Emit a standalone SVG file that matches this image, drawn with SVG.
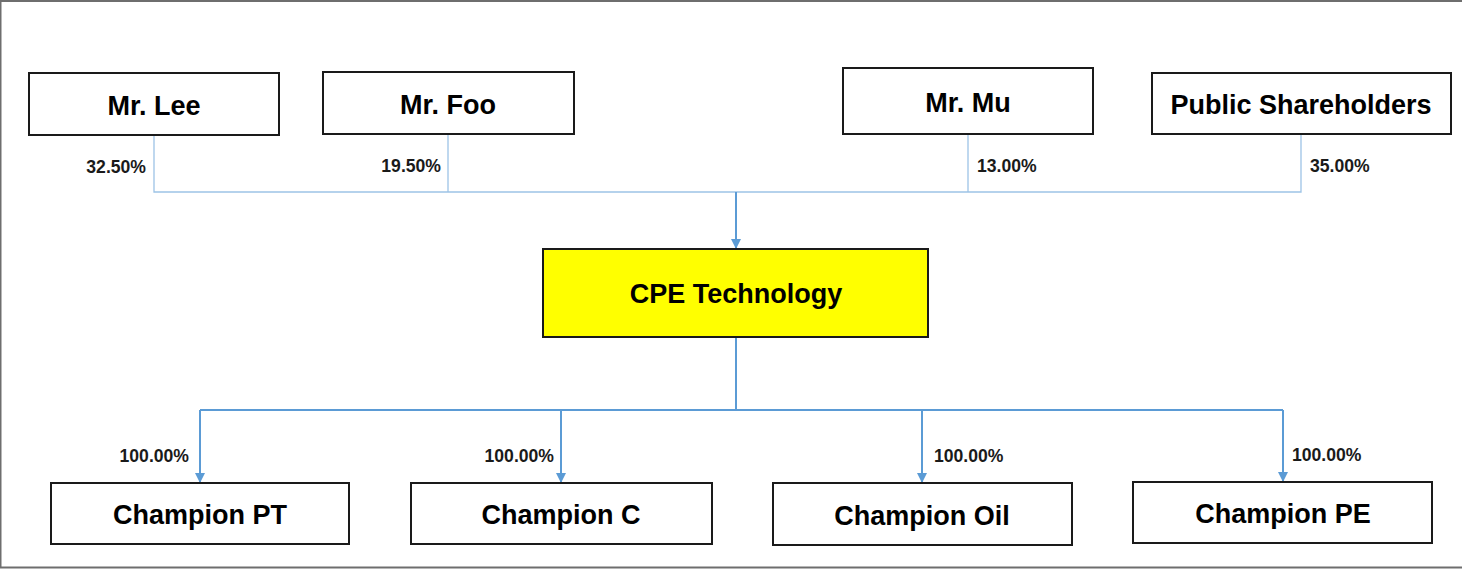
<svg xmlns="http://www.w3.org/2000/svg" width="1462" height="569" viewBox="0 0 1462 569">
<defs>
<style>
.box{fill:#fff;stroke:#1a1a1a;stroke-width:2}
.yel{fill:#ffff00;stroke:#1a1a1a;stroke-width:2}
.nt{font-family:"Liberation Sans",Arial,sans-serif;font-weight:bold;font-size:27px;fill:#000;text-anchor:middle}
.pt{font-family:"Liberation Sans",Arial,sans-serif;font-weight:bold;font-size:17.6px;fill:#1a1a1a}
.thin{fill:none;stroke:#9dc3e6;stroke-width:1.3}
.blue{fill:none;stroke:#5b9bd5;stroke-width:2}
</style>
<marker id="ah" viewBox="0 0 10 10" refX="10" refY="5" markerWidth="5" markerHeight="5" markerUnits="strokeWidth" orient="auto">
<path d="M0,0 L10,5 L0,10 z" fill="#5b9bd5"/>
</marker>
</defs>
<rect x="0" y="0" width="1462" height="569" fill="#fff"/>
<path d="M1470,1 H0.5 V567.5 H1470" fill="none" stroke="#6e6e6e" stroke-width="2"/>
<g id="connectors">
<path class="thin" d="M154,135 V192 H1301 V134"/>
<path class="thin" d="M448,134 V192"/>
<path class="thin" d="M968,134 V192"/>
<path class="blue" d="M736,192 V249" marker-end="url(#ah)"/>
<path class="blue" d="M736,338 V410"/>
<path class="blue" d="M200,410 H1283"/>
<path class="blue" d="M200,410 V483" marker-end="url(#ah)"/>
<path class="blue" d="M561,410 V483" marker-end="url(#ah)"/>
<path class="blue" d="M922,410 V483" marker-end="url(#ah)"/>
<path class="blue" d="M1283,410 V482" marker-end="url(#ah)"/>
</g>
<g id="labels">
<text class="pt" x="146" y="173" text-anchor="end">32.50%</text>
<text class="pt" x="441" y="172" text-anchor="end">19.50%</text>
<text class="pt" x="977" y="172">13.00%</text>
<text class="pt" x="1310" y="172">35.00%</text>
<text class="pt" x="189" y="462" text-anchor="end">100.00%</text>
<text class="pt" x="554" y="462" text-anchor="end">100.00%</text>
<text class="pt" x="934" y="462">100.00%</text>
<text class="pt" x="1292" y="461">100.00%</text>
</g>
<g id="n-lee"><rect class="box" x="29" y="73" width="250" height="62"/><text class="nt" x="154" y="115">Mr. Lee</text></g>
<g id="n-foo"><rect class="box" x="323" y="72" width="251" height="62"/><text class="nt" x="448" y="114">Mr. Foo</text></g>
<g id="n-mu"><rect class="box" x="843" y="68" width="250" height="66"/><text class="nt" x="968" y="112">Mr. Mu</text></g>
<g id="n-public"><rect class="box" x="1152" y="73" width="299" height="61"/><text class="nt" x="1301" y="114">Public Shareholders</text></g>
<g id="n-cpe"><rect class="yel" x="543" y="249" width="385" height="88"/><text class="nt" x="736" y="303">CPE Technology</text></g>
<g id="n-pt"><rect class="box" x="51" y="483" width="298" height="61"/><text class="nt" x="200" y="524">Champion PT</text></g>
<g id="n-c"><rect class="box" x="411" y="483" width="301" height="61"/><text class="nt" x="561" y="524">Champion C</text></g>
<g id="n-oil"><rect class="box" x="773" y="483" width="299" height="62"/><text class="nt" x="922" y="525">Champion Oil</text></g>
<g id="n-pe"><rect class="box" x="1133" y="482" width="299" height="61"/><text class="nt" x="1283" y="523">Champion PE</text></g>
</svg>
